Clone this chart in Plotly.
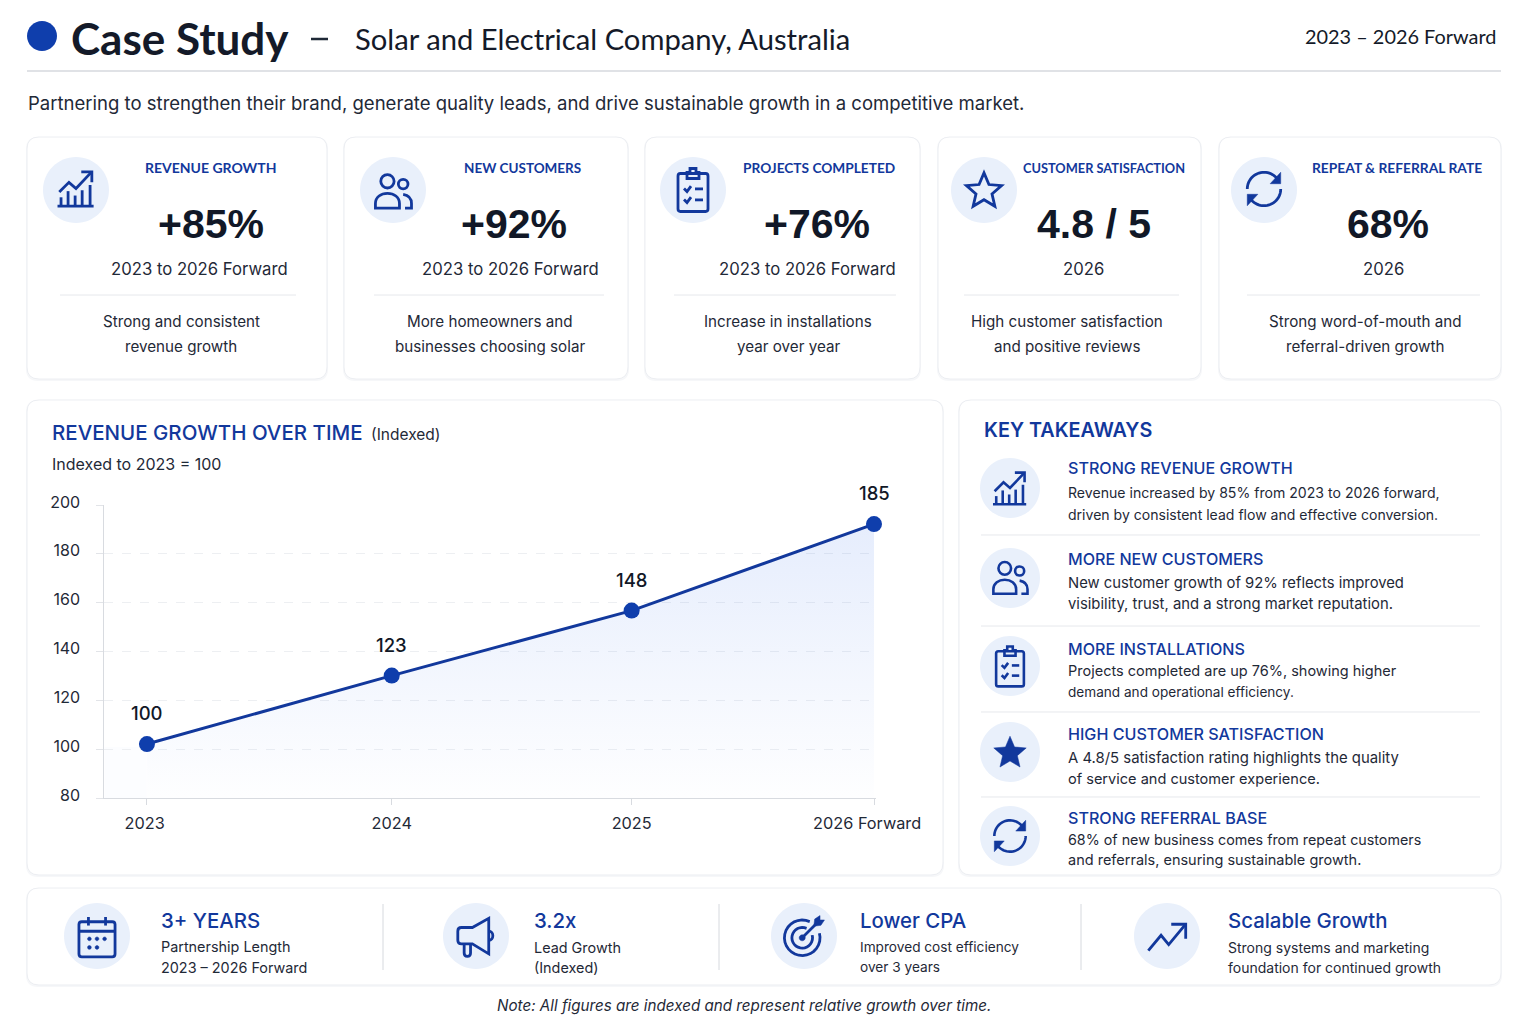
import math
import re
import plotly.graph_objects as go

W, H = 1536, 1024
FONT = "Inter"
ALT = "Lato"
NUM = "Liberation Sans"
BLUE = "#12389C"
DOT = "#0F3EAC"
DARK = "#111827"
BODY = "#1F2937"
RULE = "#E6E8EC"
TINT = "#E9F0FB"

# chart values
years = [2023, 2024.01, 2025, 2026]
# trailing nbsp nudges these two labels left of their ticks, as in the picture
year_ticks = ["2023\u00a0", "2024", "2025", "2026 Forward\u00a0\u00a0\u00a0"]
index_labels = ["100", "123", "148", "185"]
# heights the points are drawn at in the picture (labels above say otherwise)
index_drawn = [102.2, 130.2, 156.8, 192.2]
y_ticks = [80, 100, 120, 140, 160, 180, 200]

# kpi cards
kpi_labels = ["REVENUE GROWTH", "NEW CUSTOMERS", "PROJECTS COMPLETED", "CUSTOMER SATISFACTION", "REPEAT & REFERRAL RATE"]
kpi_values = ["+85%", "+92%", "+76%", "4.8 / 5", "68%"]
kpi_periods = ["2023 to 2026 Forward", "2023 to 2026 Forward", "2023 to 2026 Forward", "2026", "2026"]
kpi_desc_1 = ["Strong and consistent", "More homeowners and", "Increase in installations", "High customer satisfaction", "Strong word-of-mouth and"]
kpi_desc_2 = ["revenue growth", "businesses choosing solar", "year over year", "and positive reviews", "referral-driven growth"]

# takeaways
take_heads = ["STRONG REVENUE GROWTH", "MORE NEW CUSTOMERS", "MORE INSTALLATIONS", "HIGH CUSTOMER SATISFACTION", "STRONG REFERRAL BASE"]
take_line_1 = [
    "Revenue increased by 85% from 2023 to 2026 forward,",
    "New customer growth of 92% reflects improved",
    "Projects completed are up 76%, showing higher",
    "A 4.8/5 satisfaction rating highlights the quality",
    "68% of new business comes from repeat customers",
]
take_line_2 = [
    "driven by consistent lead flow and effective conversion.",
    "visibility, trust, and a strong market reputation.",
    "demand and operational efficiency.",
    "of service and customer experience.",
    "and referrals, ensuring sustainable growth.",
]

# bottom strip
strip_heads = ["3+ YEARS", "3.2x", "Lower CPA", "Scalable Growth"]
strip_line_1 = ["Partnership Length", "Lead Growth", "Improved cost efficiency", "Strong systems and marketing"]
strip_line_2 = ["2023 – 2026 Forward", "(Indexed)", "over 3 years", "foundation for continued growth"]


def to_paper(d, cx=12, cy=12, s=1, ox=12, oy=12):
    # every number in a path is an x,y pair, so just walk them in turn
    nums = iter(re.findall(r"[A-Za-z]|-?\d+\.?\d*", d))
    out = []
    for tok in nums:
        if tok.isalpha():
            out.append(tok)
        else:
            x = cx + (float(tok) - ox) * s
            y = cy + (float(next(nums)) - oy) * s
            out.append(f"{x / W:.5f},{1 - y / H:.5f}")
    return " ".join(out)


def circle_d(cx, cy, r, ry=None):
    ry = ry or r
    k = 0.5523
    return (f"M{cx - r} {cy} C{cx - r} {cy - k * ry} {cx - k * r} {cy - ry} {cx} {cy - ry} "
            f"C{cx + k * r} {cy - ry} {cx + r} {cy - k * ry} {cx + r} {cy} "
            f"C{cx + r} {cy + k * ry} {cx + k * r} {cy + ry} {cx} {cy + ry} "
            f"C{cx - k * r} {cy + ry} {cx - r} {cy + k * ry} {cx - r} {cy} Z")


def arc_d(cx, cy, r, a0, a1, n=24):
    pts = []
    for i in range(n + 1):
        a = math.radians(a0 + (a1 - a0) * i / n)
        pts.append(f"{'M' if i == 0 else 'L'}{cx + r * math.cos(a):.3f} {cy + r * math.sin(a):.3f}")
    return " ".join(pts)


def round_d(x0, y0, x1, y1, r):
    return (f"M{x0 + r} {y0} L{x1 - r} {y0} Q{x1} {y0} {x1} {y0 + r} L{x1} {y1 - r} Q{x1} {y1} {x1 - r} {y1} "
            f"L{x0 + r} {y1} Q{x0} {y1} {x0} {y1 - r} L{x0} {y0 + r} Q{x0} {y0} {x0 + r} {y0} Z")


def star_d(cx, cy, r0, r1):
    pts = []
    for i in range(10):
        a = math.radians(-90 + 36 * i)
        r = r0 if i % 2 == 0 else r1
        pts.append(f"{'M' if i == 0 else 'L'}{cx + r * math.cos(a):.3f} {cy + r * math.sin(a):.3f}")
    return " ".join(pts) + " Z"


# icons on a 24 unit grid: (path, filled?)
ICONS = {
    "chart": [
        ("M2.5 14 L8 8.5 L12 12 L20.5 3", False),
        ("M15 2.5 L21 2.5 L21 8.5", False),
        ("M1.5 22 L22 22", False),
        ("M3.5 22 L3.5 17", False), ("M7.5 22 L7.5 13.5", False), ("M11.5 22 L11.5 16", False),
        ("M15.5 22 L15.5 13", False), ("M20 22 L20 10", False),
    ],
    "users": [
        (circle_d(9, 6.5, 3.6), False),
        ("M2.5 21 L2.5 18.5 C2.5 15 5.5 13 9 13 C12.5 13 15.5 15 15.5 18.5 L15.5 21 Z", False),
        (circle_d(17.5, 8, 2.6), False),
        ("M17.5 13.5 C20.5 14 22 16 22 18.5 L22 21 L18.5 21", False),
    ],
    "clipboard": [
        (round_d(4.5, 4, 19.5, 23, 1.2), False),
        ("M9 6.5 L9 3.5 L10.5 3.5 L10.5 1.5 L13.5 1.5 L13.5 3.5 L15 3.5 L15 6.5 Z", False),
        ("M7.5 11.5 L9 13 L11 10.3", False), ("M13 11.7 L17 11.7", False),
        ("M7.5 17 L9 18.5 L11 15.8", False), ("M13 17.2 L17 17.2", False),
    ],
    "star": [(star_d(12, 12.8, 11, 5), False)],
    "star_fill": [(star_d(12, 12.8, 11, 5), True)],
    "refresh": [
        (arc_d(12, 12, 9.5, 180, 325), False),
        (arc_d(12, 12, 9.5, 0, 145), False),
        ("M21.5 2.5 L21.5 9 L15.5 9 Z", True),
        ("M2.5 21.5 L2.5 15 L8.5 15 Z", True),
    ],
    "calendar": [
        (round_d(2.5, 4.5, 21.5, 23, 1.5), False),
        ("M2.5 9.5 L21.5 9.5", False),
        ("M7.5 2 L7.5 6.5", False), ("M16.5 2 L16.5 6.5", False),
        (circle_d(8, 13.5, 1), True), (circle_d(12, 13.5, 1), True), (circle_d(16, 13.5, 1), True),
        (circle_d(8, 18, 1), True), (circle_d(12, 18, 1), True),
    ],
    "megaphone": [
        ("M2 8.5 Q2 6.5 4 6.5 L10 6.5 L19 1.5 L19 21 L10 15.5 L4 15.5 Q2 15.5 2 13.5 Z", False),
        ("M5.5 15.5 L5.5 20.5 C5.5 23 9 23 9 20.5 L9 15.5", False),
        ("M19 8.5 C22 8.5 22 13.5 19 13.5", False),
    ],
    "target": [
        (arc_d(11, 13, 10, -15, 295), False),
        (arc_d(11, 13, 5.8, -15, 295), False),
        (circle_d(11, 13, 1.7), True),
        ("M11 13 L20 4", False),
        ("M17.5 6.5 L18 2.5 L21 0.5 L21 3 L23.5 3 L21.5 6 Z", True),
    ],
    "trend": [
        ("M1 20 L8.5 11 L13 16.5 L22.5 5", False),
        ("M14.5 4.5 L23 4.5 L23 13", False),
    ],
}

shapes = []
annotations = []


def shape(path, fill=None, line=None, width=0, layer="below"):
    shapes.append(dict(type="path", path=path, xref="paper", yref="paper", layer=layer,
                       fillcolor=fill if fill else "rgba(0,0,0,0)",
                       line=dict(color=line if line else "rgba(0,0,0,0)", width=width)))


def text(t, x, y, size, color=BODY, weight=400, anchor="left", style="normal", font=FONT):
    # annotations land about a pixel off, pull them back
    if anchor == "left":
        x -= 1
    elif anchor == "right":
        x += 1
    annotations.append(dict(
        text=t, x=x / W, y=1 - y / H, xref="paper", yref="paper", xanchor=anchor, yanchor="middle",
        showarrow=False, borderpad=0,
        font=dict(family=font, size=size, color=color, weight=weight, style=style),
    ))


def rule(x0, y0, x1, y1, color=RULE, width=1):
    shape(to_paper(f"M{x0} {y0} L{x1} {y1}"), line=color, width=width)


def card(x0, y0, x1, y1, r=12):
    shape(to_paper(round_d(x0 - 1, y0, x1 + 1, y1 + 2, r)), fill="#F6F7F9")
    shape(to_paper(round_d(x0, y0, x1, y1, r)), fill="#FFFFFF", line="#ECEEF2", width=1)


def badge(name, cx, cy, r, ix, iy, s, width=2.4):
    shape(to_paper(circle_d(cx, cy, r)), fill=TINT)
    for d, filled in ICONS[name]:
        if filled:
            shape(to_paper(d, ix, iy, s), fill=BLUE, line=BLUE, width=0.5, layer="above")
        else:
            shape(to_paper(d, ix, iy, s), line=BLUE, width=width, layer="above")


# header
shape(to_paper(circle_d(42, 36, 15)), fill=DOT)
text("Case Study", 71, 37.5, 44, "#141A29", 700, font=ALT)
rule(311, 39, 328, 39, "#1F2937", 2.5)
text("Solar and Electrical Company, Australia", 355, 38.5, 29.2, "#141A29", 400, font=ALT)
text("2023 – 2026 Forward", 1496, 35.5, 19.9, "#141A29", 400, "right", font=ALT)
rule(27, 71, 1501, 71, "#D6D9DE", 1.5)
text("Partnering to strengthen their brand, generate quality leads, and drive sustainable growth in a competitive market.",
     28, 102.5, 18.55, BODY)

# kpi row
card_edges = [(27, 327), (344, 628), (645, 920), (938, 1201), (1219, 1501)]
kpi_icons = ["chart", "users", "clipboard", "star", "refresh"]
kpi_icon_scale = [1.76, 1.85, 2.0, 1.68, 1.76]
kpi_icon_y = [188.5, 191.5, 189.5, 190, 189]
kpi_circle_x = [76, 393, 693, 984, 1264]
kpi_label_x = [211, 522, 819, 1104, 1397]
kpi_label_size = [14, 13.5, 13.7, 12.8, 13.8]
kpi_value_x = [211, 514, 817, 1094, 1388]
kpi_period_x = [199, 510, 807, 1083, 1383]
kpi_desc_x = [181, 490, 788, 1067, 1365]
kpi_rules = [(60, 296), (374, 604), (674, 896), (964, 1179), (1247, 1480)]
for i in range(5):
    card(card_edges[i][0], 137, card_edges[i][1], 379)
    badge(kpi_icons[i], kpi_circle_x[i], 190, 33, kpi_circle_x[i], kpi_icon_y[i], kpi_icon_scale[i], 2.8)
    text(kpi_labels[i], kpi_label_x[i], 167.5, kpi_label_size[i], BLUE, 700, "center", font=ALT)
    text(kpi_values[i], kpi_value_x[i], 223.5, 41, DARK, 700, "center", font=NUM)
    text(kpi_periods[i], kpi_period_x[i], 269, 16.7, BODY, 400, "center")
    rule(kpi_rules[i][0], 295, kpi_rules[i][1], 295)
    text(kpi_desc_1[i], kpi_desc_x[i], 321, 15.2, BODY, 400, "center")
    text(kpi_desc_2[i], kpi_desc_x[i], 346, 15.2, BODY, 400, "center")

# chart panel
card(27, 400, 943, 875)
text("REVENUE GROWTH OVER TIME", 52, 432, 20.5, BLUE, 500)
text("(Indexed)", 371, 434, 15.5, BODY)
text("Indexed to 2023 = 100", 52, 464, 16, BODY)

# takeaways panel
card(959, 400, 1501, 875)
text("KEY TAKEAWAYS", 984, 430, 19.8, BLUE, 600)
take_icons = ["chart", "users", "clipboard", "star_fill", "refresh"]
take_icon_scale = [1.62, 1.75, 1.85, 1.55, 1.65]
take_circle_y = [488, 578, 666, 752, 836]
take_head_y = [468, 559, 649, 734, 818]
take_l1_y = [492, 583, 671, 758, 839]
take_l2_y = [514, 604, 692, 779, 860]
take_l1_size = [14.1, 14.8, 14.5, 14.9, 14.3]
take_l2_size = [14.05, 14.85, 13.6, 14.55, 14.5]
for i in range(5):
    badge(take_icons[i], 1010, take_circle_y[i], 30, 1010, take_circle_y[i], take_icon_scale[i], 2.6)
    text(take_heads[i], 1068, take_head_y[i], 16.1, BLUE, 500)
    text(take_line_1[i], 1068, take_l1_y[i], take_l1_size[i], BODY)
    text(take_line_2[i], 1068, take_l2_y[i], take_l2_size[i], BODY)
for y in [535, 626, 712, 797]:
    rule(981, y, 1480, y)

# bottom strip
card(27, 888, 1501, 985)
strip_icons = ["calendar", "megaphone", "target", "trend"]
strip_icon_scale = [1.9, 1.82, 1.78, 1.7]
strip_icon_y = [936, 937.5, 936, 937]
strip_circle_x = [97, 476, 804, 1167]
strip_text_x = [161, 534, 860, 1228]
strip_sub_size = [14.4, 14.4, 13.65, 14.0]
for i in range(4):
    badge(strip_icons[i], strip_circle_x[i], 936, 33, strip_circle_x[i], strip_icon_y[i], strip_icon_scale[i], 2.8)
    text(strip_heads[i], strip_text_x[i], 920, 20.4, BLUE, 500)
    text(strip_line_1[i], strip_text_x[i], 947, strip_sub_size[i], BODY)
    text(strip_line_2[i], strip_text_x[i], 967, strip_sub_size[i], BODY)
for x in [383, 719, 1081]:
    rule(x, 904, x, 970, "#D6D9DE", 1)

text("Note: All figures are indexed and represent relative growth over time.", 744, 1005, 15.2, BODY, 400, "center", "italic")

fig = go.Figure()
fig.add_trace(go.Scatter(
    x=years, y=index_drawn,
    mode="lines+markers",
    line=dict(color=BLUE, width=3),
    marker=dict(color=DOT, size=16),
    fill="tozeroy",
    fillgradient=dict(
        type="vertical", start=80, stop=192,
        colorscale=[[0, "rgba(37,99,235,0.005)"], [1, "rgba(37,99,235,0.115)"]],
    ),
    cliponaxis=False,
    hoverinfo="x+y",
))

# faint tint that carries on left of the first point
shapes.append(dict(type="rect", xref="x", yref="y", x0=2022.824, x1=2023, y0=80, y1=101, layer="below",
                   fillcolor="rgba(37,99,235,0.012)", line=dict(width=0)))

# value labels sit well clear of the markers
for x, y, label in zip(years, index_drawn, index_labels):
    annotations.append(dict(
        text=label, x=x, y=y, xref="x", yref="y", yshift=31, showarrow=False,
        xanchor="center", yanchor="middle",
        font=dict(family=FONT, size=18.5, color=DARK, weight=500),
    ))

x_left = 104.3 / W
x_right = 875.7 / W
fig.update_layout(
    width=W, height=H,
    margin=dict(l=0, r=0, t=0, b=0, autoexpand=False),
    paper_bgcolor="#FFFFFF",
    plot_bgcolor="rgba(0,0,0,0)",
    showlegend=False,
    font=dict(family=FONT, color=BODY),
    shapes=shapes,
    annotations=annotations,
    xaxis=dict(
        domain=[x_left, x_right], range=[2022.824, 2026.007],
        tickvals=years, ticktext=year_ticks, automargin=False,
        ticks="outside", ticklen=6, tickcolor="#D8DBE0", tickwidth=1,
        showline=True, linecolor="#D8DBE0", linewidth=1, showgrid=False, zeroline=False,
        tickfont=dict(family=FONT, size=16.3, color=BODY), ticklabelstandoff=4,
        fixedrange=True,
    ),
    yaxis=dict(
        domain=[1 - 798.3 / H, 1 - 505 / H], range=[80, 200],
        tickvals=y_ticks, automargin=False,
        ticks="outside", ticklen=7, tickcolor="#E2E4E8", tickwidth=1,
        showline=True, linecolor="#D8DBE0", linewidth=1,
        showgrid=True, gridcolor="#EDEFF2", griddash="dash", gridwidth=1, zeroline=False,
        tickfont=dict(family=FONT, size=16, color=BODY), ticklabelstandoff=13, ticklabelshift=-3,
        fixedrange=True,
    ),
)

fig.write_html("out.html", config=dict(displayModeBar=False),
               post_script="document.body.style.margin='0';document.body.style.overflow='hidden';")
